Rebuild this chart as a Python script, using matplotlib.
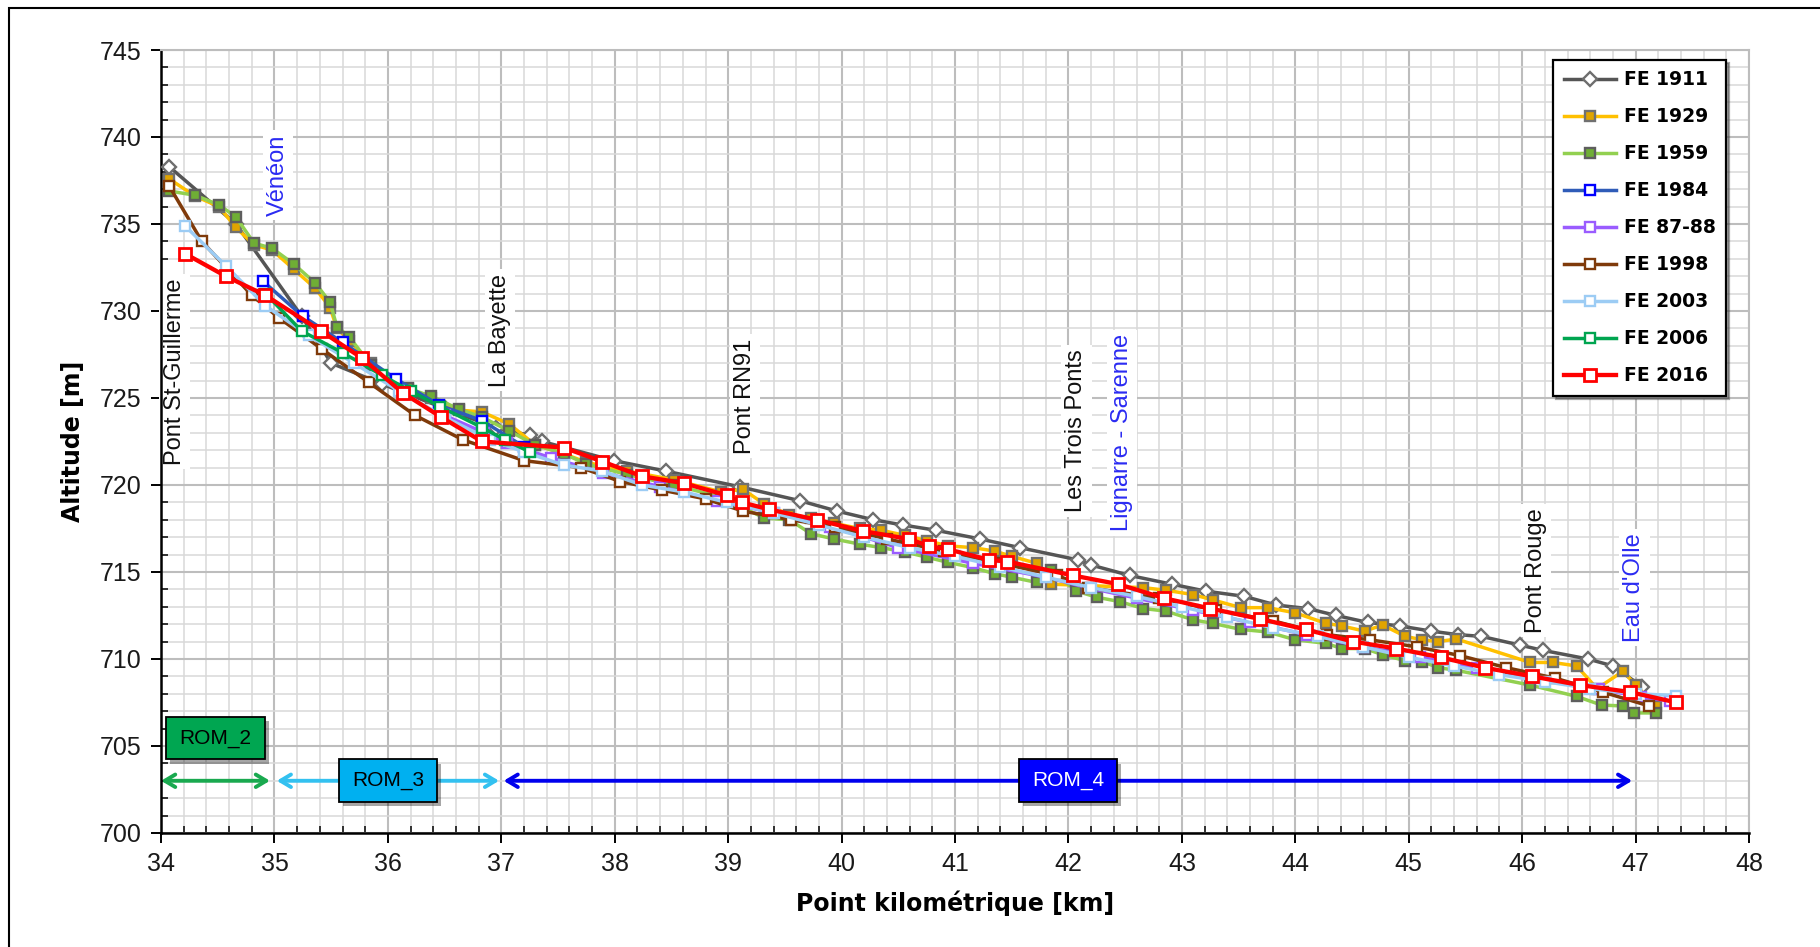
import matplotlib
matplotlib.use("Agg")
import matplotlib.pyplot as plt
import matplotlib.patheffects as pe
from matplotlib.patches import Rectangle
from matplotlib.ticker import MultipleLocator

# Profils en long de la Romanche : (point kilométrique [km], altitude du fond [m])
FE_1911 = [(34.07, 738.3), (34.66, 735.0), (35.24, 729.7), (35.50, 727.0), (35.95, 725.8),
           (36.50, 724.4), (36.95, 723.3), (37.25, 722.85), (37.36, 722.5), (37.99, 721.4),
           (38.45, 720.8), (39.10, 719.9), (39.63, 719.1), (39.96, 718.5), (40.28, 718.0),
           (40.54, 717.7), (40.83, 717.4), (41.22, 716.9), (41.57, 716.4), (42.08, 715.7),
           (42.20, 715.4), (42.54, 714.8), (42.91, 714.3), (43.21, 713.9), (43.55, 713.6),
           (43.83, 713.1), (44.11, 712.9), (44.36, 712.5), (44.64, 712.1), (44.92, 711.9),
           (45.20, 711.6), (45.43, 711.4), (45.64, 711.3), (45.98, 710.8), (46.18, 710.5),
           (46.58, 710.0), (46.80, 709.6), (47.06, 708.4)]

FE_1929 = [(34.07, 737.6), (34.30, 736.6), (34.51, 736.0), (34.66, 734.8), (34.82, 733.8),
           (34.98, 733.5), (35.17, 732.4), (35.36, 731.3), (35.49, 730.2), (35.55, 729.0),
           (35.66, 728.3), (35.85, 727.0), (36.18, 725.5), (36.38, 725.0), (36.63, 724.3),
           (36.83, 724.2), (37.07, 723.5), (37.30, 722.3), (37.55, 721.8), (37.75, 721.3),
           (38.11, 720.8), (38.52, 720.3), (38.94, 719.6), (39.13, 719.75), (39.32, 718.9),
           (39.54, 718.3), (39.73, 718.1), (39.93, 717.8), (40.16, 717.5), (40.35, 717.4),
           (40.56, 717.1), (40.75, 716.8), (40.94, 716.5), (41.16, 716.4), (41.35, 716.2),
           (41.50, 715.9), (41.72, 715.5), (41.85, 714.3), (42.66, 714.1), (42.86, 713.95),
           (43.10, 713.7), (43.27, 713.4), (43.52, 712.95), (43.76, 712.95), (44.00, 712.65),
           (44.27, 712.05), (44.41, 711.9), (44.61, 711.6), (44.77, 711.95), (44.97, 711.3),
           (45.12, 711.1), (45.26, 711.0), (45.42, 711.15), (46.07, 709.8), (46.27, 709.8),
           (46.48, 709.6), (46.66, 708.3), (46.89, 709.3), (47.00, 708.5), (47.18, 707.3)]

FE_1959 = [(34.07, 736.9), (34.30, 736.65), (34.51, 736.1), (34.66, 735.4), (34.82, 733.9),
           (34.98, 733.6), (35.17, 732.7), (35.36, 731.6), (35.49, 730.5), (35.55, 729.1),
           (35.66, 728.5), (35.85, 726.9), (36.18, 725.55), (36.38, 725.1), (36.63, 724.35),
           (36.83, 723.9), (37.07, 723.1), (37.30, 722.3), (37.55, 721.8), (37.75, 721.2),
           (38.11, 720.6), (38.52, 720.0), (38.94, 719.3), (39.13, 718.7), (39.32, 718.1),
           (39.54, 718.0), (39.73, 717.2), (39.93, 716.9), (40.16, 716.6), (40.35, 716.4),
           (40.56, 716.15), (40.75, 715.85), (40.94, 715.55), (41.16, 715.25), (41.35, 714.9),
           (41.50, 714.7), (41.72, 714.4), (41.85, 715.1), (42.07, 713.9), (42.25, 713.55),
           (42.45, 713.3), (42.66, 712.9), (42.86, 712.75), (43.10, 712.25), (43.27, 712.05),
           (43.52, 711.7), (43.76, 711.55), (44.00, 711.1), (44.27, 710.9), (44.41, 710.6),
           (44.61, 710.6), (44.77, 710.25), (44.97, 709.9), (45.12, 709.85), (45.26, 709.5),
           (45.42, 709.35), (46.07, 708.5), (46.48, 707.85), (46.70, 707.35), (46.89, 707.3),
           (46.99, 706.9), (47.18, 706.9)]

FE_1984 = [(34.90, 731.7), (35.25, 729.7), (35.60, 728.2), (36.07, 726.1), (36.45, 724.6),
           (36.83, 723.7), (37.20, 722.2)]

FE_8788 = [(36.50, 724.0), (36.85, 723.0), (37.05, 722.4), (37.44, 721.55), (37.90, 720.7),
           (38.40, 719.9), (38.90, 719.1), (39.40, 718.4), (39.90, 717.6), (40.50, 716.4),
           (41.16, 715.5), (41.80, 714.7), (42.17, 714.1), (42.60, 713.5), (43.10, 712.8),
           (43.60, 712.1), (44.10, 711.4), (44.60, 710.7), (45.10, 710.1), (45.60, 709.5),
           (46.10, 708.9), (46.68, 708.3), (47.05, 707.8), (47.30, 707.6)]

FE_1998 = [(34.07, 737.2), (34.36, 734.0), (34.80, 730.9), (35.04, 729.6), (35.42, 727.8),
           (35.83, 725.9), (36.24, 724.0), (36.66, 722.6), (37.20, 721.4), (37.70, 721.0),
           (38.05, 720.2), (38.42, 719.7), (38.80, 719.2), (39.13, 718.5), (39.55, 718.0),
           (39.94, 717.6), (40.40, 716.9), (40.90, 716.2), (41.40, 715.5), (41.90, 714.8),
           (42.17, 714.1), (42.80, 713.5), (43.30, 712.8), (43.80, 712.2), (44.28, 711.4),
           (44.66, 711.1), (45.07, 710.7), (45.45, 710.2), (45.86, 709.5), (46.29, 708.9),
           (46.71, 708.1), (47.12, 707.3)]

FE_2003 = [(34.21, 734.9), (34.57, 732.6), (34.92, 730.3), (35.30, 728.6), (35.70, 727.0),
           (36.10, 725.4), (36.50, 723.9), (36.90, 722.6), (37.20, 721.9), (37.55, 721.15),
           (37.89, 720.8), (38.24, 720.0), (38.61, 719.6), (38.99, 719.0), (39.40, 718.4),
           (39.80, 717.7), (40.20, 717.0), (40.60, 716.4), (41.00, 715.9), (41.40, 715.3),
           (41.80, 714.7), (42.20, 714.1), (42.60, 713.6), (43.00, 713.0), (43.40, 712.4),
           (43.80, 711.8), (44.20, 711.3), (44.60, 710.7), (45.00, 710.1), (45.40, 709.6),
           (45.80, 709.1), (46.20, 708.7), (46.60, 708.3), (47.00, 708.0), (47.36, 707.9)]

FE_2006 = [(34.92, 731.0), (35.24, 728.85), (35.60, 727.6), (35.95, 726.3), (36.20, 725.4),
           (36.46, 724.5), (36.83, 723.3), (37.03, 722.6), (37.25, 721.9)]

FE_2016 = [(34.21, 733.3), (34.57, 732.0), (34.92, 730.9), (35.41, 728.85), (35.77, 727.3),
           (36.13, 725.3), (36.47, 723.9), (36.83, 722.5), (37.55, 722.15), (37.89, 721.35),
           (38.24, 720.5), (38.61, 720.1), (38.99, 719.4), (39.12, 719.0), (39.36, 718.6),
           (39.78, 718.0), (40.19, 717.35), (40.59, 716.9), (40.77, 716.5), (40.94, 716.3),
           (41.30, 715.7), (41.46, 715.6), (42.04, 714.8), (42.44, 714.3), (42.84, 713.5),
           (43.25, 712.9), (43.69, 712.3), (44.09, 711.7), (44.51, 711.0), (44.89, 710.6),
           (45.28, 710.1), (45.67, 709.5), (46.09, 709.0), (46.51, 708.5), (46.95, 708.1),
           (47.36, 707.5)]

SERIES_NAMES = ["FE 1911", "FE 1929", "FE 1959", "FE 1984", "FE 87-88",
                "FE 1998", "FE 2003", "FE 2006", "FE 2016"]
SERIES_DATA = [FE_1911, FE_1929, FE_1959, FE_1984, FE_8788,
               FE_1998, FE_2003, FE_2006, FE_2016]

# Ouvrages et confluences repérés le long du profil
LANDMARK_LABELS = ["Pont St-Guillerme", "Vénéon", "La Bayette", "Pont RN91",
                   "Les Trois Ponts", "Lignarre - Sarenne", "Pont Rouge", "Eau d'Olle"]
LANDMARK_PK = [34.12, 35.03, 36.99, 39.15, 42.07, 42.47, 46.12, 46.99]
LANDMARK_IS_RIVER = [False, True, False, False, False, True, False, True]

# Tronçons homogènes (nom, PK début, PK fin)
REACH_NAMES = ["ROM_2", "ROM_3", "ROM_4"]
REACH_START = [34.0, 35.02, 37.02]
REACH_END = [34.96, 36.98, 46.97]

# ---- styles -------------------------------------------------------------
STYLES = {
    "FE 1911": dict(color="#555555", marker="D", ms=7, mfc="white", mec="#6e6e6e", lw=2.5),
    "FE 1929": dict(color="#ffc000", marker="s", ms=7.5, mfc="#e0a400", mec="#707070", lw=2.5),
    "FE 1959": dict(color="#92d050", marker="s", ms=7.5, mfc="#6fae35", mec="#5e5e5e", lw=2.5),
    "FE 1984": dict(color="#2f5cb8", marker="s", ms=7.5, mfc="white", mec="#0000ff", lw=2.5),
    "FE 87-88": dict(color="#9a5cff", marker="s", ms=7.5, mfc="white", mec="#9a5cff", lw=2.5),
    "FE 1998": dict(color="#7f3a0a", marker="s", ms=7.5, mfc="white", mec="#7f3a0a", lw=2.5),
    "FE 2003": dict(color="#9cccf4", marker="s", ms=7.5, mfc="white", mec="#9cccf4", lw=2.5),
    "FE 2006": dict(color="#00a550", marker="s", ms=7.5, mfc="white", mec="#00a550", lw=2.5),
    "FE 2016": dict(color="#ff0000", marker="s", ms=8, mfc="white", mec="#ff0000", lw=3.1,
                    mew=2.0),
}
REACH_COLORS = {"ROM_2": ("#00a651", "black"), "ROM_3": ("#00b0f0", "black"),
                "ROM_4": ("#0000ff", "white")}
ARROW_COLORS = {"ROM_2": "#19a94f", "ROM_3": "#33c1f0", "ROM_4": "#0000ee"}
RIVER_BLUE = "#2b2bf2"
TICK_FONT = "Liberation Sans"

fig = plt.figure(figsize=(18.2, 9.47), dpi=100)
fig.patch.set_facecolor("white")
ax = fig.add_axes([0.0885, 0.1204, 0.9610 - 0.0885, 0.9472 - 0.1204])

handles = []
for name, data in zip(SERIES_NAMES, SERIES_DATA):
    xs = [p[0] for p in data]
    ys = [p[1] for p in data]
    st = dict(STYLES[name])
    mew = st.pop("mew", 1.7)
    h, = ax.plot(xs, ys, label=name, zorder=3, markeredgewidth=mew,
                 solid_joinstyle="round", **st)
    handles.append(h)

ax.set_xlim(34, 48)
ax.set_ylim(700, 745)
ax.xaxis.set_major_locator(MultipleLocator(1))
ax.xaxis.set_minor_locator(MultipleLocator(0.2))
ax.yaxis.set_major_locator(MultipleLocator(5))
ax.yaxis.set_minor_locator(MultipleLocator(1))

ax.grid(which="major", color="#bdbdbd", lw=1.5, zorder=0)
ax.grid(which="minor", color="#d9d9d9", lw=1.1, zorder=0)
ax.set_axisbelow(True)

for side in ("top", "right"):
    ax.spines[side].set_color("#bdbdbd")
    ax.spines[side].set_linewidth(1.5)
for side in ("left", "bottom"):
    ax.spines[side].set_color("black")
    ax.spines[side].set_linewidth(1.8)

ax.tick_params(which="major", direction="out", length=7, width=1.4, color="black",
               labelsize=18, pad=7)
ax.tick_params(which="minor", direction="in", length=5, width=1.1, color="black")
for lab in ax.get_xticklabels() + ax.get_yticklabels():
    lab.set_fontfamily(TICK_FONT)
    lab.set_color("#1a1a1a")

fig.text(0.0400, 0.5338, "Altitude [m]", rotation=90, ha="center", va="center",
         fontsize=17, fontweight="bold", family="DejaVu Sans")
fig.text(0.5247, 0.0465, "Point kilométrique [km]", ha="center", va="center",
         fontsize=17, fontweight="bold", family="DejaVu Sans")

# vertical labels for bridges and tributaries
label_alt = [726.5, 737.8, 728.9, 725.1, 723.1, 723.0, 715.1, 714.1]
for text, pk, alt, river in zip(LANDMARK_LABELS, LANDMARK_PK, label_alt, LANDMARK_IS_RIVER):
    ax.text(pk, alt, text, rotation=90, ha="center", va="center", fontsize=17,
            family=TICK_FONT, color=RIVER_BLUE if river else "#111111",
            zorder=1.5, bbox=dict(facecolor="white", edgecolor="none", pad=3))

# reach arrows with labelled boxes
arrow_alt = 703.0
box_w, box_h = 0.87, 2.45
for name, x0, x1 in zip(REACH_NAMES, REACH_START, REACH_END):
    ax.annotate("", xy=(x1, arrow_alt), xytext=(x0, arrow_alt),
                arrowprops=dict(arrowstyle="<->,head_length=0.75,head_width=0.45",
                                color=ARROW_COLORS[name], lw=2.8,
                                shrinkA=0, shrinkB=0), zorder=4)
    face, txt_col = REACH_COLORS[name]
    cx = 0.5 * (x0 + x1)
    cy = arrow_alt if name != "ROM_2" else arrow_alt + box_h
    rect = Rectangle((cx - box_w / 2, cy - box_h / 2), box_w, box_h,
                     facecolor=face, edgecolor="black", lw=1.3, zorder=6)
    rect.set_path_effects([pe.SimplePatchShadow(offset=(3, -3), shadow_rgbFace="black",
                                                alpha=0.35), pe.Normal()])
    ax.add_patch(rect)
    ax.text(cx, cy, name, ha="center", va="center", fontsize=15, family=TICK_FONT,
            color=txt_col, zorder=7)

leg = ax.legend(handles=handles, loc="upper right", bbox_to_anchor=(0.9855, 0.987),
                borderaxespad=0, frameon=True, fancybox=False, shadow=True,
                edgecolor="black", framealpha=1, numpoints=1,
                prop=dict(family="DejaVu Sans", weight="bold", size=13.5),
                labelspacing=0.96, handlelength=2.8, handletextpad=0.4, borderpad=0.55)
leg.get_frame().set_linewidth(1.6)
leg.set_zorder(8)

# outer chart frame
fig.add_artist(Rectangle((9 / 1820, -0.05), 1.2, 1.05 - 8 / 947, transform=fig.transFigure,
                         fill=False, edgecolor="black", lw=1.5))

fig.savefig("out.png", dpi=100)
